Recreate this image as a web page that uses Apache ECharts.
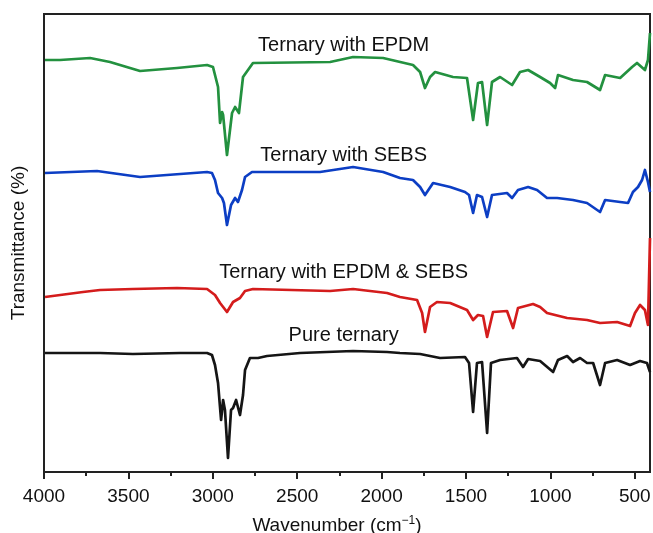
<!DOCTYPE html>
<html>
<head>
<meta charset="utf-8">
<title>FTIR spectra</title>
<script src="https://cdn.jsdelivr.net/npm/echarts@6/dist/echarts.min.js"></script>
<style>
  html, body { margin: 0; padding: 0; background: #ffffff; }
  #chart { width: 653px; height: 533px; }
</style>
</head>
<body>
<div id="chart"></div>
<script>
// FTIR transmittance spectra (curves offset vertically, arbitrary units)

const seriesNames = ['Ternary with EPDM', 'Ternary with SEBS', 'Ternary with EPDM & SEBS', 'Pure ternary'];

const epdmWavenumber = [3994, 3905, 3727, 3609, 3431, 3212, 3034, 2999, 2969, 2957, 2945, 2939, 2916, 2886, 2868, 2845, 2821, 2762, 2305, 2169, 1991, 1814, 1772, 1743, 1713, 1683, 1577, 1494, 1458, 1429, 1405, 1375, 1346, 1298, 1227, 1180, 1132, 1061, 1002, 972, 955, 866, 783, 706, 676, 587, 516, 487, 440, 422, 411, 410];
const epdmTransmittance = [412, 412, 414, 410, 401, 404, 407, 405, 385, 349, 360, 357, 317, 359, 365, 359, 395, 409, 410, 415, 414, 407, 400, 384, 395, 400, 395, 394, 352, 389, 390, 347, 390, 395, 387, 400, 402, 395, 389, 384, 397, 392, 390, 382, 397, 394, 405, 409, 402, 412, 412, 439];

const sebsWavenumber = [3994, 3686, 3431, 3034, 3005, 2987, 2969, 2945, 2934, 2916, 2892, 2868, 2851, 2827, 2809, 2768, 2483, 2365, 2169, 1991, 1891, 1814, 1772, 1743, 1695, 1594, 1506, 1482, 1458, 1435, 1405, 1375, 1346, 1257, 1227, 1192, 1132, 1079, 1020, 960, 866, 783, 706, 676, 587, 540, 511, 481, 457, 440, 422, 410];
const sebsTransmittance = [299, 301, 295, 300, 299, 292, 279, 274, 269, 247, 267, 274, 270, 282, 295, 300, 300, 300, 305, 300, 294, 292, 285, 277, 289, 285, 280, 277, 259, 277, 275, 255, 277, 279, 274, 282, 285, 282, 274, 274, 272, 269, 260, 272, 270, 269, 280, 285, 292, 302, 290, 280];

const blendWavenumber = [3994, 3769, 3668, 3473, 3212, 3034, 2987, 2957, 2916, 2880, 2839, 2809, 2762, 2305, 2169, 1968, 1891, 1790, 1760, 1743, 1713, 1672, 1594, 1494, 1458, 1429, 1399, 1375, 1340, 1257, 1221, 1192, 1103, 1061, 1020, 901, 783, 706, 605, 528, 499, 469, 440, 422, 411, 410];
const blendTransmittance = [175, 180, 182, 183, 184, 183, 177, 169, 160, 170, 174, 181, 183, 181, 183, 179, 175, 172, 159, 140, 165, 170, 169, 162, 152, 157, 156, 135, 160, 161, 144, 164, 168, 165, 159, 154, 152, 149, 150, 146, 159, 167, 162, 147, 147, 234];

const pureWavenumber = [3994, 3668, 3473, 3194, 3034, 3005, 2987, 2969, 2951, 2939, 2928, 2910, 2892, 2880, 2862, 2839, 2821, 2809, 2780, 2732, 2679, 2483, 2169, 1968, 1891, 1772, 1654, 1506, 1482, 1458, 1435, 1405, 1375, 1352, 1298, 1198, 1162, 1132, 1061, 984, 955, 901, 866, 824, 783, 747, 706, 676, 605, 528, 469, 428, 410];
const pureTransmittance = [119, 119, 118, 119, 119, 117, 107, 89, 52, 72, 62, 14, 62, 64, 72, 57, 77, 102, 114, 114, 116, 119, 121, 120, 119, 118, 114, 115, 109, 60, 109, 110, 39, 109, 112, 114, 105, 113, 111, 100, 112, 116, 110, 114, 109, 109, 87, 109, 112, 107, 111, 109, 100];

const xTickLabels = [4000, 3500, 3000, 2500, 2000, 1500, 1000, 500];
const xMinorTicks = [3750, 3250, 2750, 2250, 1750, 1250, 750];

// Where each curve's caption sits, in axis units
const captionWavenumber = 2225;
const captionLevels = [427, 317, 200, 137];

const colors = ['#23913f', '#0c3ec4', '#d41c1c', '#151515'];
const FONT = '"Liberation Sans", Arial, Helvetica, sans-serif';

const spectra = [
  [epdmWavenumber, epdmTransmittance],
  [sebsWavenumber, sebsTransmittance],
  [blendWavenumber, blendTransmittance],
  [pureWavenumber, pureTransmittance]
];

const chart = echarts.init(document.getElementById('chart'), null, { renderer: 'canvas' });

const series = spectra.map(function (pair, i) {
  return {
    type: 'line',
    name: seriesNames[i],
    data: pair[0].map(function (w, k) { return [w, pair[1][k]]; }),
    symbol: 'none',
    showSymbol: false,
    silent: true,
    clip: true,
    lineStyle: { color: colors[i], width: 2.7, join: 'round' },
    itemStyle: { color: colors[i] },
    markPoint: {
      symbol: 'circle',
      symbolSize: 0,
      silent: true,
      label: {
        show: true,
        position: 'inside',
        color: '#111',
        fontSize: 20,
        fontFamily: FONT,
        formatter: seriesNames[i]
      },
      data: [{ coord: [captionWavenumber, captionLevels[i]] }]
    }
  };
});

const xCommon = {
  type: 'value',
  inverse: true,
  min: 410,
  max: 4000,
  position: 'bottom',
  splitLine: { show: false }
};

chart.setOption({
  animation: false,
  backgroundColor: '#ffffff',
  textStyle: { fontFamily: FONT },
  grid: {
    left: 44, right: 3, top: 14, bottom: 61,
    show: true, borderColor: '#222', borderWidth: 2,
    containLabel: false,
    outerBoundsMode: 'none'
  },
  xAxis: [
    Object.assign({}, xCommon, {
      name: 'Wavenumber (cm{sup|\u22121})',
      nameLocation: 'middle',
      nameGap: 43,
      nameTextStyle: {
        fontSize: 19, color: '#111', fontFamily: FONT,
        padding: [0, 20, 0, 0],
        rich: { sup: { fontSize: 12, color: '#111', fontFamily: FONT, padding: [0, 0, 10, 0] } }
      },
      axisLine: { show: true, lineStyle: { color: '#222', width: 2 } },
      axisTick: { show: true, length: 7, customValues: xTickLabels, lineStyle: { color: '#222', width: 2 } },
      axisLabel: {
        show: true, customValues: xTickLabels, margin: 15, fontSize: 19, color: '#111', fontFamily: FONT,
        formatter: function (v) { return String(v); }
      }
    }),
    Object.assign({}, xCommon, {
      axisLine: { show: false },
      axisTick: { show: true, length: 4, customValues: xMinorTicks, lineStyle: { color: '#222', width: 2 } },
      axisLabel: { show: false }
    })
  ],
  yAxis: {
    type: 'value',
    min: 0,
    max: 458,
    name: 'Transmittance (%)',
    nameLocation: 'middle',
    nameGap: 16,
    nameTextStyle: { fontSize: 19, color: '#111', fontFamily: FONT },
    axisLine: { show: true, lineStyle: { color: '#222', width: 2 } },
    axisTick: { show: false },
    axisLabel: { show: false },
    splitLine: { show: false }
  },
  series: series
});
</script>
</body>
</html>
